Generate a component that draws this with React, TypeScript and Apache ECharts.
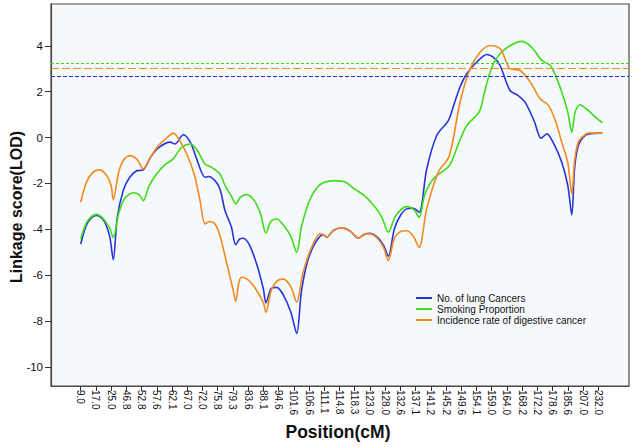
import React, { useEffect, useRef } from 'react';
import * as echarts from 'echarts';

// Marker positions (cM) shown on the x axis, equally spaced (ordinal index)
const positions = ['9.0','17.0','25.0','46.8','52.8','57.6','62.1','67.0','72.0','75.8','79.3','83.6','88.1','94.6','101.6','106.6','111.1','114.8','118.3','123.0','128.0','132.6','137.1','141.2','145.2','149.6','154.1','159.0','164.0','168.2','172.2','178.6','185.6','207.0','232.0'];
const lodTicks = [-10, -8, -6, -4, -2, 0, 2, 4];

// Significance thresholds (dashed lines)
const thrLung = 2.65;
const thrSmoking = 3.22;
const thrDigestive = 3.04;

// [marker index (fractional), LOD]
const lungCancer: [number, number][] = [
  [0, -4.64], [0.35, -3.85], [0.7, -3.5], [1.05, -3.40], [1.5, -3.6], [1.9, -4.3], [2.14, -5.32],
  [2.4, -3.5], [2.8, -2.3], [3.2, -1.75], [3.68, -1.45], [4.11, -1.41],
  [4.6, -0.85], [5.1, -0.45], [5.87, -0.2], [6.2, -0.28], [6.74, 0.12], [7.2, -0.2], [7.6, -0.9], [8.17, -1.73],
  [8.4, -1.70], [8.82, -1.88], [9.15, -2.24], [9.48, -3.18], [9.9, -3.9], [10.18, -4.67],
  [10.45, -4.42], [10.68, -4.39], [11.1, -4.7], [11.6, -5.6], [12.0, -6.6], [12.17, -7.21],
  [12.5, -6.6], [12.88, -6.53], [13.3, -6.85], [13.8, -7.6], [14.19, -8.54],
  [14.5, -6.7], [14.9, -5.4], [15.4, -4.6], [15.94, -4.23], [16.16, -4.35], [16.6, -4.05], [17.15, -3.94],
  [17.7, -4.08], [18.24, -4.38], [18.68, -4.2], [19.0, -4.17], [19.5, -4.35], [19.9, -4.7], [20.21, -5.18],
  [20.6, -4.0], [21.0, -3.4], [21.42, -3.11], [21.85, -3.08], [22.23, -3.26],
  [22.73, -1.37], [23.39, 0.09], [24.15, 0.74], [24.5, 1.4], [24.92, 2.2], [25.36, 2.78], [26.02, 3.29],
  [26.68, 3.62], [27.1, 3.5], [27.55, 3.14], [28.2, 2.05], [28.7, 1.85], [29.19, 1.54], [29.8, 0.7], [30.25, -0.03],
  [30.62, 0.16], [31.1, -0.3], [31.6, -1.08], [32.0, -2.1], [32.26, -3.37],
  [32.45, -1.3], [32.69, -0.35], [33.0, 0.0], [33.35, 0.16], [34.27, 0.19]
];

const smoking: [number, number][] = [
  [0, -4.42], [0.35, -3.75], [0.7, -3.45], [1.05, -3.35], [1.5, -3.55], [1.9, -3.95], [2.14, -4.35],
  [2.5, -3.3], [2.9, -2.65], [3.46, -2.41], [3.85, -2.5], [4.11, -2.75],
  [4.5, -2.1], [4.99, -1.59], [5.5, -1.2], [6.08, -0.93], [6.6, -0.45], [7.18, -0.28], [7.6, -0.5], [8.17, -1.15],
  [8.6, -1.3], [9.15, -1.59], [9.48, -2.09], [9.9, -2.55], [10.18, -2.89],
  [10.5, -2.6], [10.91, -2.49], [11.4, -2.75], [11.8, -3.3], [12.17, -4.16],
  [12.5, -3.65], [12.88, -3.55], [13.3, -3.8], [13.8, -4.3], [14.19, -5.0],
  [14.5, -3.9], [15.0, -2.8], [15.5, -2.2], [16.0, -1.95], [16.71, -1.88], [17.4, -1.95], [18.0, -2.25],
  [18.68, -2.55], [19.3, -3.0], [19.8, -3.5], [20.21, -4.13],
  [20.7, -3.4], [21.42, -3.01], [21.9, -3.15], [22.23, -3.48],
  [22.6, -2.5], [23.17, -1.8], [24.22, -1.22], [24.8, -0.3], [25.36, 0.52], [26.19, 1.13],
  [26.5, 1.9], [26.78, 2.6], [27.1, 3.2], [27.55, 3.65], [28.2, 4.0], [28.97, 4.19], [29.6, 3.95], [30.29, 3.36],
  [30.84, 3.14], [31.2, 2.7], [31.6, 1.98], [32.0, 1.1], [32.26, 0.23],
  [32.5, 1.15], [32.8, 1.43], [33.3, 1.2], [33.8, 0.9], [34.27, 0.64]
];

const digestive: [number, number][] = [
  [0, -2.82], [0.35, -2.0], [0.75, -1.55], [1.22, -1.41], [1.7, -1.65], [2.0, -2.1], [2.14, -2.72],
  [2.5, -1.5], [2.85, -0.95], [3.24, -0.79], [3.7, -0.95], [4.11, -1.37],
  [4.6, -0.85], [5.1, -0.35], [5.6, -0.05], [6.08, 0.19], [6.74, -0.42], [7.2, -1.1], [7.51, -1.73], [7.84, -2.75], [8.17, -3.77],
  [8.45, -3.66], [8.82, -3.77], [9.15, -4.28], [9.6, -5.5], [10.0, -6.6], [10.18, -7.14],
  [10.4, -6.3], [10.58, -6.09], [11.0, -6.2], [11.5, -6.6], [12.0, -7.2], [12.17, -7.62],
  [12.5, -6.7], [12.9, -6.25], [13.31, -6.17], [13.8, -6.5], [14.19, -7.18],
  [14.6, -5.9], [15.1, -4.9], [15.72, -4.2], [15.94, -4.23], [16.16, -4.35], [16.6, -4.05], [17.15, -3.94],
  [17.7, -4.08], [18.24, -4.38], [18.68, -4.2], [19.0, -4.2], [19.5, -4.4], [19.9, -4.8], [20.21, -5.37],
  [20.6, -4.4], [21.0, -4.1], [21.42, -4.06], [21.85, -4.3], [22.23, -4.79],
  [22.73, -3.11], [23.5, -1.51], [24.22, -0.79], [24.92, 1.54], [25.58, 3.0], [26.24, 3.72], [26.89, 4.01],
  [27.55, 3.87], [27.9, 3.4], [28.2, 3.0], [28.86, 2.92], [29.5, 2.45], [30.18, 1.69],
  [30.73, 1.4], [31.2, 0.7], [31.6, -0.2], [32.0, -1.1], [32.26, -2.46],
  [32.45, -1.0], [32.69, -0.2], [33.0, 0.05], [33.35, 0.2], [34.27, 0.19]
];

const seriesNames = ['No. of lung Cancers', 'Smoking Proportion', 'Incidence rate of digestive cancer'];
const colors = ['#2535d8', '#3fdc1c', '#f28a22'];

const FONT = 'Liberation Sans, Arial, Helvetica, sans-serif';

export default function App() {
  const ref = useRef<HTMLDivElement>(null);
  useEffect(() => {
    const chart = echarts.init(ref.current!, null, { renderer: 'svg' });
    const tickIdx = positions.map((_, i) => i);
    const mkSeries = (name: string, data: [number, number][], color: string, thr: number, dash: number[]) => ({
      name,
      type: 'line',
      data,
      symbol: 'none',
      smooth: 0.3,
      lineStyle: { color, width: 1.6 },
      itemStyle: { color },
      markLine: {
        silent: true,
        symbol: ['none', 'none'],
        label: { show: false },
        lineStyle: { color, width: 1, type: dash },
        data: [{ yAxis: thr }]
      }
    });
    chart.setOption({
      animation: false,
      backgroundColor: '#ffffff',
      textStyle: { fontFamily: FONT },
      grid: {
        left: 51, right: 8, top: 4, bottom: 61,
        show: true, backgroundColor: '#f6f9fc', borderColor: '#4a4a4a', borderWidth: 1.2
      },
      legend: {
        orient: 'vertical',
        left: 416, top: 292.5,
        padding: 0,
        itemGap: 0,
        icon: 'rect',
        itemWidth: 16,
        itemHeight: 2,
        data: seriesNames,
        textStyle: { fontSize: 10, lineHeight: 11, color: '#111', fontFamily: FONT }
      },
      xAxis: {
        type: 'value',
        min: -1.951,
        max: 36.02,
        axisLine: { show: true, onZero: false, lineStyle: { color: '#4a4a4a', width: 1.2 } },
        axisTick: { show: true, length: 5, customValues: tickIdx, lineStyle: { color: '#333' } },
        axisLabel: {
          customValues: tickIdx,
          rotate: -90,
          margin: 4,
          fontSize: 10,
          color: '#111',
          fontFamily: FONT,
          formatter: (v: number) => positions[Math.round(v)] ?? ''
        },
        splitLine: { show: false }
      },
      yAxis: {
        type: 'value',
        min: -10.83,
        max: 5.82,
        axisLine: { show: true, onZero: false, lineStyle: { color: '#4a4a4a', width: 1.2 } },
        axisTick: { show: true, length: 6, customValues: lodTicks, lineStyle: { color: '#333' } },
        axisLabel: {
          customValues: lodTicks,
          margin: 8,
          fontSize: 11.5,
          color: '#111',
          fontFamily: FONT
        },
        splitLine: { show: false }
      },
      graphic: [
        {
          type: 'text', x: 16, y: 207, rotation: Math.PI / 2,
          style: { text: 'Linkage score(LOD)', align: 'center', verticalAlign: 'middle', font: 'bold 16px ' + FONT, fill: '#111' }
        },
        {
          type: 'text', x: 338, y: 432,
          style: { text: 'Position(cM)', align: 'center', verticalAlign: 'middle', font: 'bold 17.5px ' + FONT, fill: '#111' }
        }
      ],
      series: [
        mkSeries(seriesNames[0], lungCancer, colors[0], thrLung, [4, 2]),
        mkSeries(seriesNames[1], smoking, colors[1], thrSmoking, [3, 2]),
        mkSeries(seriesNames[2], digestive, colors[2], thrDigestive, [8, 3])
      ]
    });
    return () => chart.dispose();
  }, []);
  return <div ref={ref} style={{ position: 'absolute', left: 0, top: 0, width: 637, height: 447, background: '#fff' }} />;
}
